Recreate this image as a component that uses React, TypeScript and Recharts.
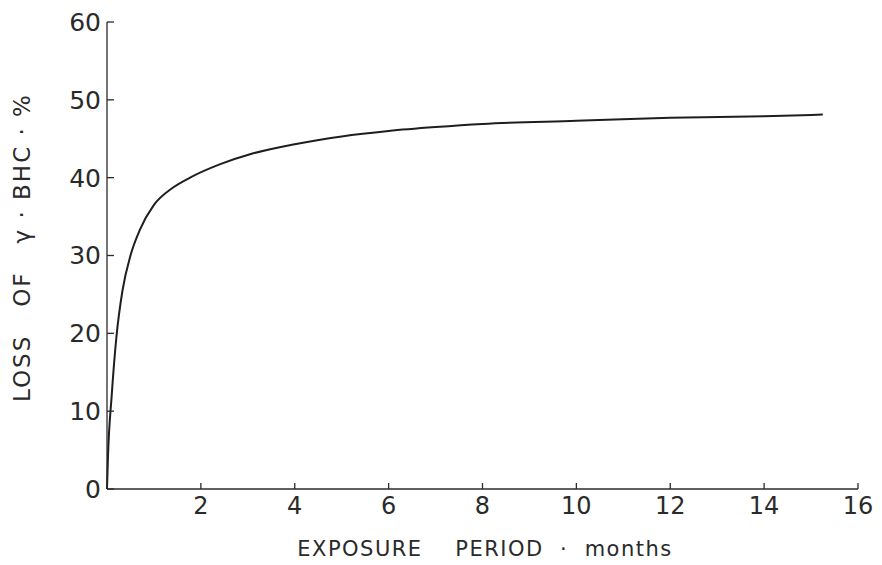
import React from 'react';
import { LineChart, Line, XAxis, YAxis } from 'recharts';

const months = [0, 0.02, 0.1, 0.2, 0.33, 0.5, 0.7, 1.0, 1.4, 1.8, 2.4, 3.1, 4.0, 5.0, 6.0, 7.0, 8.0, 10.0, 12.0, 14.0, 15.25];
const lossPct = [0, 4, 12, 19.5, 25.5, 30, 33.3, 36.5, 38.7, 40.1, 41.7, 43.1, 44.3, 45.3, 46.0, 46.5, 46.9, 47.3, 47.7, 47.9, 48.1];
const xTicks = [0, 2, 4, 6, 8, 10, 12, 14, 16];
const yTicks = [0, 10, 20, 30, 40, 50, 60];
const xTitle = 'EXPOSURE    PERIOD  ·  months';
const yTitle = 'LOSS   OF   γ · BHC · %';

const data = months.map((m, i) => ({ m, v: lossPct[i] }));

const ink = '#2a2a2a';
const font = "'DejaVu Sans', 'Liberation Sans', sans-serif";

const YTitle = (props: any) => {
  const { viewBox } = props;
  const cy = viewBox.y + viewBox.height / 2;
  return (
    <text x={22} y={cy - 8} transform={`rotate(-90, 22, ${cy - 8})`} textAnchor="middle" dominantBaseline="central"
      fill={ink} fontSize={23} letterSpacing={2} fontFamily={font} style={{ whiteSpace: 'pre' }}>
      {yTitle}
    </text>
  );
};

const XTitle = (props: any) => {
  const { viewBox } = props;
  const cx = 485;
  return (
    <text x={cx} y={549} textAnchor="middle" dominantBaseline="central"
      fill={ink} fontSize={21} letterSpacing={1.5} fontFamily={font} style={{ whiteSpace: 'pre' }}>
      {xTitle}
    </text>
  );
};

export default function App() {
  return (
    <div style={{ position: 'absolute', left: 0, top: 0, width: 882, height: 565, background: '#fff' }}>
      <LineChart width={882} height={565} data={data} margin={{ top: 22, right: 24, bottom: 0, left: 0 }}>
        <XAxis
          dataKey="m"
          type="number"
          domain={[0, 16]}
          ticks={xTicks}
          interval={0}
          height={76}
          tickSize={-6}
          tickMargin={14}
          axisLine={{ stroke: ink, strokeWidth: 1.3 }}
          tickLine={{ stroke: ink, strokeWidth: 1.3 }}
          tick={{ fill: ink, fontSize: 24, fontFamily: font }}
          tickFormatter={(v: number) => (v === 0 ? '' : String(v))}
          label={<XTitle />}
        />
        <YAxis
          type="number"
          domain={[0, 60]}
          ticks={yTicks}
          interval={0}
          width={107}
          tickSize={-7}
          tickMargin={13}
          axisLine={{ stroke: ink, strokeWidth: 1.3 }}
          tickLine={{ stroke: ink, strokeWidth: 1.3 }}
          tick={{ fill: ink, fontSize: 25, fontFamily: font }}
          label={<YTitle />}
        />
        <Line
          type="monotone"
          dataKey="v"
          stroke="#1e1e1e"
          strokeWidth={2}
          dot={false}
          isAnimationActive={false}
        />
      </LineChart>
    </div>
  );
}
